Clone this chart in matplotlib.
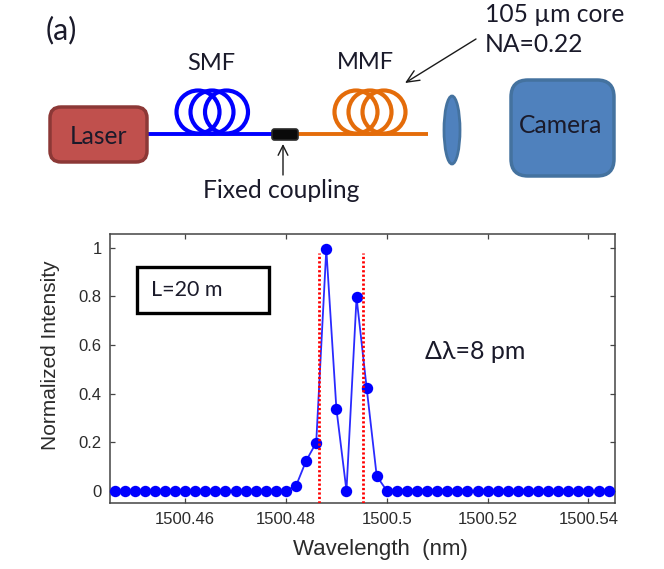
#!/bin/python

from matplotlib import pyplot as plt
from matplotlib.patches import Ellipse, FancyBboxPatch, Rectangle

# Spectrum
wavelength = [1500.446, 1500.448, 1500.450, 1500.452, 1500.454, 1500.456, 1500.458, 1500.460, 1500.462, 1500.464,
              1500.466, 1500.468, 1500.470, 1500.472, 1500.474, 1500.476, 1500.478, 1500.480, 1500.482, 1500.484,
              1500.486, 1500.488, 1500.490, 1500.492, 1500.494, 1500.496, 1500.498, 1500.500, 1500.502, 1500.504,
              1500.506, 1500.508, 1500.510, 1500.512, 1500.514, 1500.516, 1500.518, 1500.520, 1500.522, 1500.524,
              1500.526, 1500.528, 1500.530, 1500.532, 1500.534, 1500.536, 1500.538, 1500.540, 1500.542, 1500.544]
intensity = [0, 0, 0, 0, 0, 0, 0, 0, 0, 0,
             0, 0, 0, 0, 0, 0, 0, 0, 0.02, 0.123,
             0.198, 0.995, 0.338, 0, 0.796, 0.424, 0.06, 0, 0, 0,
             0, 0, 0, 0, 0, 0, 0, 0, 0, 0,
             0, 0, 0, 0, 0, 0, 0, 0, 0, 0]
edge_wavelengths = [1500.4866, 1500.4952]
x_ticks = [1500.46, 1500.48, 1500.5, 1500.52, 1500.54]
x_tick_labels = ['1500.46', '1500.48', '1500.5', '1500.52', '1500.54']
y_ticks = [0, 0.2, 0.4, 0.6, 0.8, 1]
y_tick_labels = ['0', '0.2', '0.4', '0.6', '0.8', '1']

W, H = 664, 569
ARIAL = 'Liberation Sans'
CALIBRI = ['Lato', 'DejaVu Sans']
TEXT = '#2b2b2b'

fig = plt.figure(figsize=(W / 100, H / 100), dpi=100, facecolor='white')

#===================================
#		Spectrum
#===================================
ax = fig.add_axes([110 / W, (H - 503.3) / H, 504.7 / W, 269 / H])
ax.plot(wavelength, intensity, color='#2a2aff', linewidth=1.3, zorder=2)
ax.plot(wavelength, intensity, linestyle='none', marker='o', markersize=8.2,
        markerfacecolor='#0000ff', markeredgecolor='none', zorder=3, clip_on=False)
for edge in edge_wavelengths:
    ax.plot([edge, edge], [-0.052, 0.98], color='#ff0000', linewidth=2.0,
            linestyle=(0, (0.8, 0.8)), dash_capstyle='butt', zorder=4)

ax.set_xlim(1500.4451, 1500.5452)
ax.set_ylim(-0.052, 1.056)
ax.set_xticks(x_ticks)
ax.set_xticklabels(x_tick_labels, family=ARIAL, fontsize=12, color=TEXT)
ax.set_yticks(y_ticks)
ax.set_yticklabels(y_tick_labels, family=ARIAL, fontsize=12, color=TEXT)
ax.tick_params(direction='in', length=3.5, width=0.9, color='#444444', top=True, right=True, pad=6)
for spine in ax.spines.values():
    spine.set_color('#444444')
    spine.set_linewidth(1.1)
ax.set_xlabel('Wavelength  (nm)', family=ARIAL, fontsize=16, color=TEXT)
ax.xaxis.set_label_coords(0.535, -0.17, transform=ax.transAxes)
ax.xaxis.label.set_verticalalignment('center')
ax.set_ylabel('Normalized Intensity', family=ARIAL, fontsize=15, color=TEXT)
ax.yaxis.set_label_coords(-0.117, 0.551, transform=ax.transAxes)
ax.yaxis.label.set_verticalalignment('center')

#===================================
#		Schematic, in picture pixels
#===================================
sk = fig.add_axes([0, 0, 1, 1], facecolor='none')
sk.set_xlim(0, W)
sk.set_ylim(H, 0)
sk.axis('off')


def rounded(x0, y0, x1, y1, radius, face, edge, lw):
    sk.add_patch(FancyBboxPatch((x0, y0), x1 - x0, y1 - y0, boxstyle='round,pad=0,rounding_size=%g' % radius,
                                facecolor=face, edgecolor=edge, linewidth=lw, zorder=3))


def coil(centres, colour):
    # loops are full circles, their bottoms sit on the fibre
    for cx in centres:
        sk.add_patch(Ellipse((cx, 112), 43, 43, facecolor='none', edgecolor=colour, linewidth=3.0, zorder=2))


def label(x, y, s, size=17.7, ha='center'):
    sk.text(x, y, s, family=CALIBRI, fontsize=size, color='#1a1a2a', ha=ha, va='center', zorder=6)


rounded(50, 107, 147, 162, 11, '#c0504d', '#8c3836', 2.5)
sk.plot([148, 272], [134, 134], color='#0000ff', linewidth=2.8, solid_capstyle='butt', zorder=2)
sk.plot([298, 428], [134, 134], color='#e46c0a', linewidth=2.8, solid_capstyle='butt', zorder=2)
coil([198, 212, 226.5], '#0000ff')
coil([356, 370, 384], '#e46c0a')
rounded(272, 129, 298, 140, 2.5, '#0a0a0a', '#2a2a2a', 1.2)
sk.add_patch(Ellipse((452, 130), 16, 68, facecolor='#4f81bd', edgecolor='#44729f', linewidth=2, zorder=3))
rounded(511, 80, 614, 176, 17, '#4f81bd', '#44729f', 2.5)

sk.annotate('', xy=(283, 144), xytext=(283, 175),
            arrowprops=dict(arrowstyle='->,head_length=0.7,head_width=0.35', color='#1a1a1a', lw=1.0, shrinkA=0, shrinkB=0))
sk.annotate('', xy=(405, 83), xytext=(476, 39),
            arrowprops=dict(arrowstyle='->,head_length=0.9,head_width=0.4', color='#1a1a1a', lw=1.0, shrinkA=0, shrinkB=0))

label(46, 30, '(a)', size=22, ha='left')
label(485, 14, '105 µm core', ha='left')
label(485, 44, 'NA=0.22', ha='left')
label(211, 63, 'SMF', size=17)
label(365, 62, 'MMF', size=17)
label(99, 136, 'Laser')
label(561, 125, 'Camera')
label(281, 190, 'Fixed coupling')

sk.add_patch(Rectangle((137, 267), 132, 46, facecolor='white', edgecolor='black', linewidth=2.4, zorder=5))
label(151, 290, 'L=20 m', size=15.5, ha='left')
label(425, 351, 'Δλ=8 pm', size=18, ha='left')

plt.savefig('out.png', dpi=100)
